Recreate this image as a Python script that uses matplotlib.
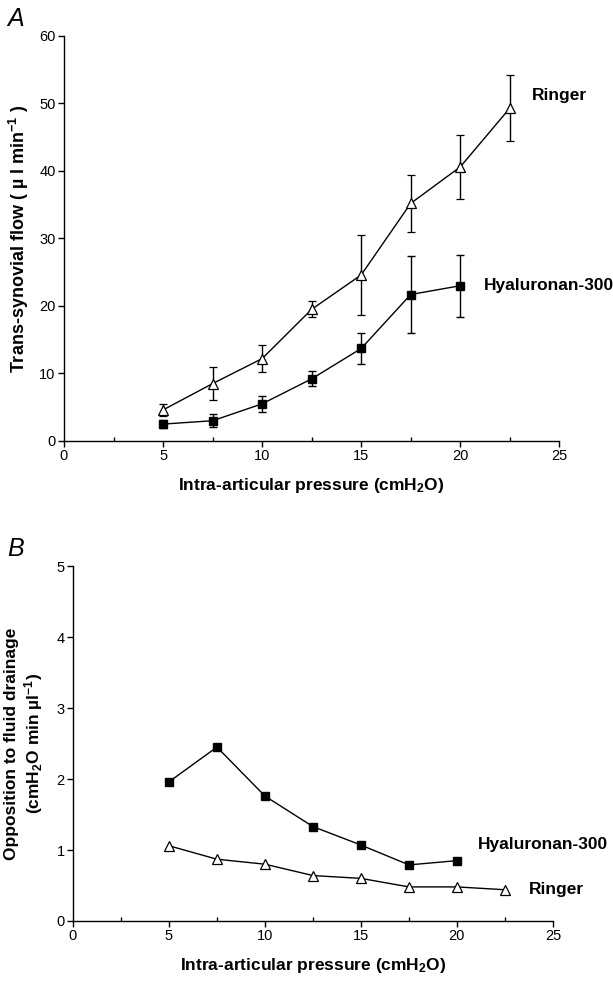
import matplotlib.pyplot as plt
from matplotlib.ticker import MultipleLocator

plt.rcParams['font.family'] = ['Liberation Sans', 'DejaVu Sans']
plt.rcParams['mathtext.fontset'] = 'custom'
plt.rcParams['mathtext.rm'] = 'Liberation Sans:bold'
plt.rcParams['mathtext.it'] = 'Liberation Sans:bold'
plt.rcParams['mathtext.bf'] = 'Liberation Sans:bold'

# Panel A: trans-synovial flow vs pressure
pressure_ringer = [5, 7.5, 10, 12.5, 15, 17.5, 20, 22.5]
flow_ringer = [4.6, 8.5, 12.2, 19.5, 24.6, 35.2, 40.6, 49.3]
err_ringer = [0.9, 2.5, 2.0, 1.2, 5.9, 4.2, 4.8, 4.9]

pressure_ha = [5, 7.5, 10, 12.5, 15, 17.5, 20]
flow_ha = [2.5, 3.0, 5.5, 9.2, 13.7, 21.7, 23.0]
err_ha = [0.6, 1.0, 1.2, 1.1, 2.3, 5.7, 4.6]

# Panel B: opposition to fluid drainage
opp_ringer = [1.06, 0.87, 0.80, 0.64, 0.60, 0.48, 0.48, 0.44]
opp_ha = [1.96, 2.45, 1.76, 1.33, 1.07, 0.79, 0.85]

fig = plt.figure(figsize=(6.13, 9.83), dpi=100)
axA = fig.add_axes([0.1044, 0.5514, 0.808, 0.412])
axB = fig.add_axes([0.119, 0.0631, 0.783, 0.361])

LABEL_FS = 12.5


def style_axis(ax):
    for s in ['top', 'right']:
        ax.spines[s].set_visible(False)
    for s in ['left', 'bottom']:
        ax.spines[s].set_linewidth(1.0)
    ax.xaxis.set_major_locator(MultipleLocator(5))
    ax.xaxis.set_minor_locator(MultipleLocator(2.5))
    ax.tick_params(axis='both', which='major', direction='out', length=4,
                   width=1, labelsize=10.5, pad=2)
    ax.tick_params(axis='x', which='minor', direction='in', length=3, width=1)
    ax.set_xlim(0, 25)


# --- A ---
axA.errorbar(pressure_ringer, flow_ringer, yerr=err_ringer, color='black',
             marker='^', markersize=6.5, markerfacecolor='white',
             markeredgecolor='black', markeredgewidth=0.9, linewidth=1.0,
             elinewidth=1.0, capsize=3, capthick=1.0)
axA.errorbar(pressure_ha, flow_ha, yerr=err_ha, color='black',
             marker='s', markersize=6, markerfacecolor='black',
             linewidth=1.0, elinewidth=1.0, capsize=3, capthick=1.0)
style_axis(axA)
axA.set_ylim(0, 60)
axA.yaxis.set_major_locator(MultipleLocator(10))
axA.set_xlabel('Intra-articular pressure (cmH$_2$O)', fontsize=LABEL_FS,
               fontweight='bold', labelpad=9)
axA.set_ylabel('Trans-synovial flow ( µ l min$^{-1}$ )', fontsize=LABEL_FS + 0.5,
               fontweight='bold', labelpad=6)
axA.text(23.6, 51.2, 'Ringer', fontsize=LABEL_FS, fontweight='bold',
         va='center')
axA.text(21.2, 23.0, 'Hyaluronan-300', fontsize=LABEL_FS, fontweight='bold',
         va='center')
fig.text(0.012, 0.981, 'A', fontsize=18, style='italic', va='center')

# --- B ---
axB.plot(pressure_ha, opp_ha, color='black', marker='s', markersize=6,
         linewidth=1.0)
axB.plot(pressure_ringer, opp_ringer, color='black', marker='^',
         markersize=6.5, markerfacecolor='white', markeredgewidth=0.9,
         linewidth=1.0)
style_axis(axB)
axB.set_ylim(0, 5)
axB.yaxis.set_major_locator(MultipleLocator(1))
axB.set_xlabel('Intra-articular pressure (cmH$_2$O)', fontsize=LABEL_FS,
               fontweight='bold', labelpad=9)
axB.set_ylabel('Opposition to fluid drainage\n(cmH$_2$O min µl$^{-1}$)',
               fontsize=LABEL_FS, fontweight='bold', labelpad=8,
               linespacing=1.2)
axB.text(21.1, 1.08, 'Hyaluronan-300', fontsize=LABEL_FS, fontweight='bold',
         va='center')
axB.text(23.75, 0.44, 'Ringer', fontsize=LABEL_FS, fontweight='bold',
         va='center')
fig.text(0.012, 0.441, 'B', fontsize=18, style='italic', va='center')

fig.savefig('out.png', dpi=100)
